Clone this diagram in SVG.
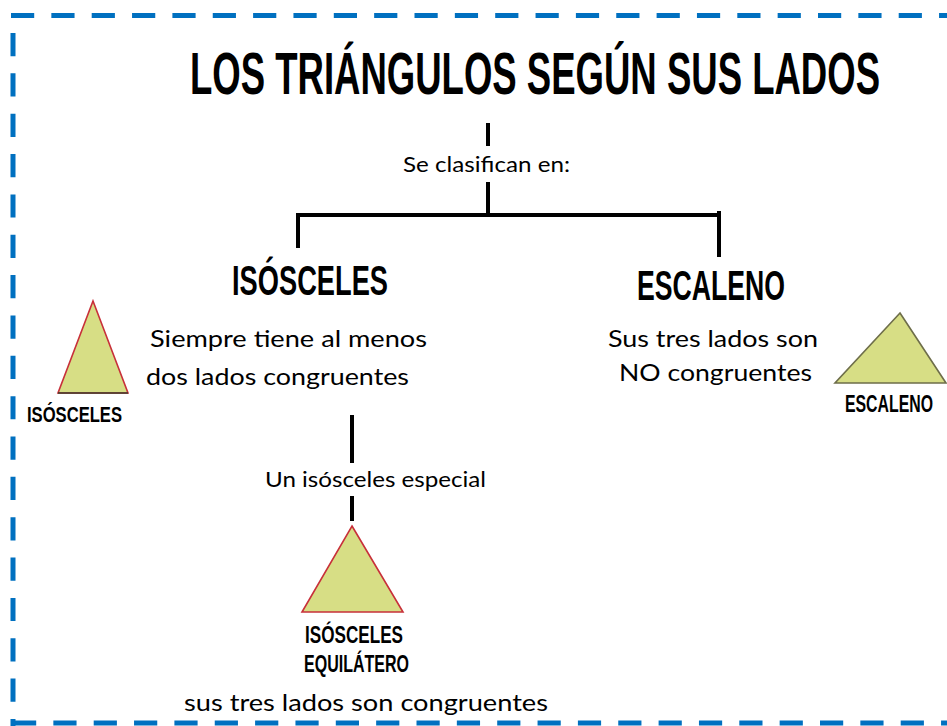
<svg xmlns="http://www.w3.org/2000/svg" width="947" height="726" viewBox="0 0 947 726">
  <style>
    .border { stroke: #0070C0; stroke-width: 5; fill: none; stroke-dasharray: 23.2 17.15; }
    .conn { stroke: #000; stroke-width: 4; fill: none; stroke-linecap: butt; }
    .head { font-family: "Liberation Sans Narrow", "Liberation Sans", Arial, sans-serif; font-weight: bold; fill: #000; }
    .body { font-family: Lato, "Open Sans", "Noto Sans", sans-serif; fill: #000; }
    .tri { fill: #D7DE85; stroke: #C8303A; stroke-width: 1.6; stroke-linejoin: miter; }
  </style>
  <rect width="947" height="726" fill="#fff"/>

  <g id="border">
    <line class="border" x1="11" y1="15.5" x2="947" y2="15.5"/>
    <line class="border" x1="13" y1="33" x2="13" y2="726"/>
    <line class="border" x1="13" y1="723" x2="947" y2="723"/>
  </g>

  <g id="title">
    <text class="head" transform="translate(190,94) scale(0.609,1)" x="0" y="0" font-size="60" textLength="1133" lengthAdjust="spacingAndGlyphs">LOS TRIÁNGULOS SEGÚN SUS LADOS</text>
  </g>

  <g id="connectors">
    <line class="conn" x1="488" y1="123" x2="488" y2="146"/>
    <line class="conn" x1="488" y1="182" x2="488" y2="216"/>
    <line class="conn" x1="296" y1="215" x2="721" y2="215"/>
    <line class="conn" x1="298" y1="213" x2="298" y2="248"/>
    <line class="conn" x1="719" y1="211" x2="719" y2="257"/>
    <line class="conn" x1="352" y1="415" x2="352" y2="463"/>
    <line class="conn" x1="352" y1="496" x2="352" y2="521"/>
  </g>

  <g id="label-clasifican">
    <text class="body" x="403" y="172" font-size="21" textLength="167" lengthAdjust="spacingAndGlyphs">Se clasifican en:</text>
  </g>

  <g id="isosceles">
    <text class="head" x="232" y="295" font-size="42" textLength="156" lengthAdjust="spacingAndGlyphs">ISÓSCELES</text>
    <text class="body" x="150" y="347" font-size="23" textLength="277" lengthAdjust="spacingAndGlyphs">Siempre tiene al menos</text>
    <text class="body" x="146" y="385" font-size="23" textLength="263" lengthAdjust="spacingAndGlyphs">dos lados congruentes</text>
    <polygon class="tri" points="93,301 128,393 58,393"/>
    <line x1="58" y1="393" x2="128" y2="393" stroke="#3a3a2a" stroke-width="1.6"/>
    <text class="head" x="27" y="422" font-size="22" textLength="95" lengthAdjust="spacingAndGlyphs">ISÓSCELES</text>
  </g>

  <g id="escaleno">
    <text class="head" x="637" y="300" font-size="43" textLength="148" lengthAdjust="spacingAndGlyphs">ESCALENO</text>
    <text class="body" x="608" y="347" font-size="23" textLength="210" lengthAdjust="spacingAndGlyphs">Sus tres lados son</text>
    <text class="body" x="619" y="381" font-size="23" textLength="193" lengthAdjust="spacingAndGlyphs">NO congruentes</text>
    <polygon points="900,313 946,383 835,383" fill="#D7DE85" stroke="#6e6e4a" stroke-width="1.6"/>
    <text class="head" transform="translate(845,412) scale(0.66,1)" x="0" y="0" font-size="24" textLength="133.3" lengthAdjust="spacingAndGlyphs">ESCALENO</text>
  </g>

  <g id="label-especial">
    <text class="body" x="265" y="487" font-size="21" textLength="221" lengthAdjust="spacingAndGlyphs">Un isósceles especial</text>
  </g>

  <g id="equilatero">
    <polygon class="tri" points="352,526 403,612 302,612"/>
    <text class="head" x="305" y="643" font-size="24" textLength="98" lengthAdjust="spacingAndGlyphs">ISÓSCELES</text>
    <text class="head" x="304" y="672" font-size="24" textLength="105" lengthAdjust="spacingAndGlyphs">EQUILÁTERO</text>
    <text class="body" x="184" y="711" font-size="23" textLength="364" lengthAdjust="spacingAndGlyphs">sus tres lados son congruentes</text>
  </g>
</svg>
